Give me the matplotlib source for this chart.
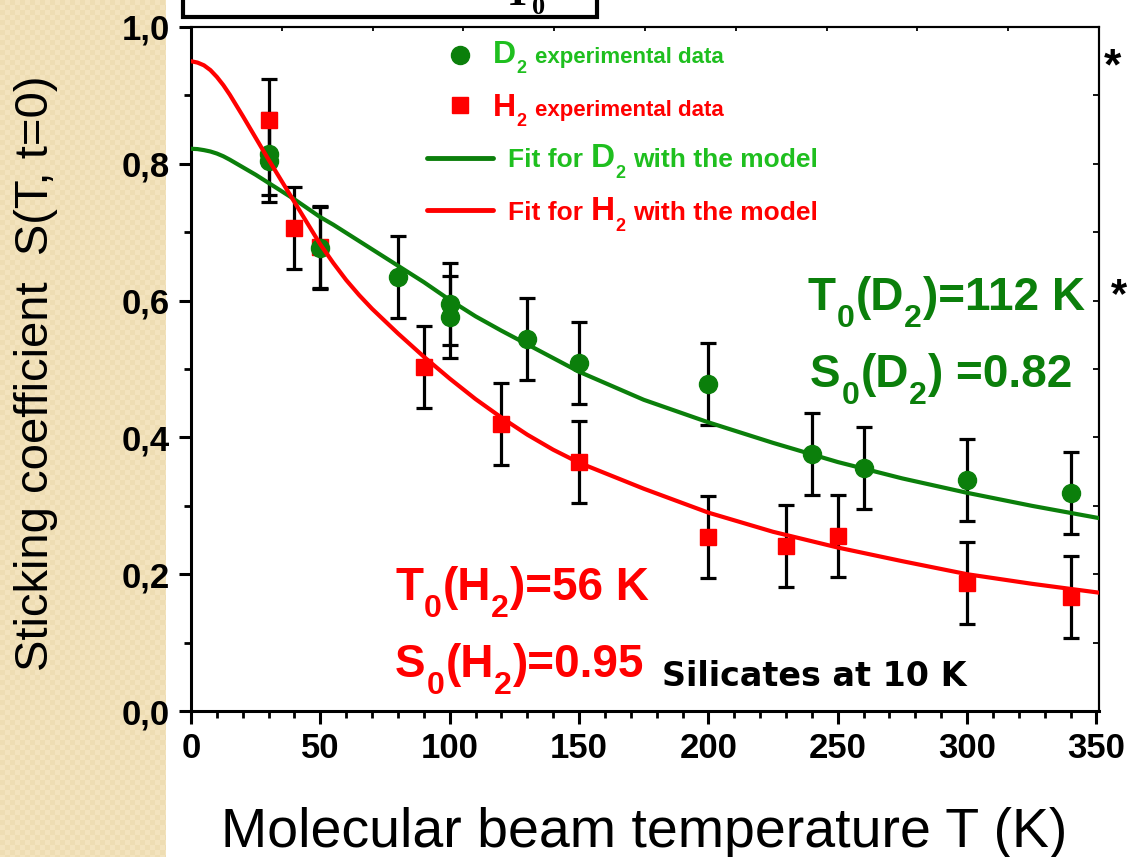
import numpy as np
import matplotlib
matplotlib.use("Agg")
import matplotlib.pyplot as plt
from matplotlib.lines import Line2D
from matplotlib.patches import Rectangle
from matplotlib.ticker import MultipleLocator, FuncFormatter, NullLocator

plt.rcParams['font.family'] = ['Liberation Sans', 'DejaVu Sans']

W, H = 1130, 857

# experimental points (T in K, sticking coefficient)
d2_T = [30, 30, 50, 80, 100, 100, 130, 150, 200, 240, 260, 300, 340]
d2_S = [0.815, 0.804, 0.677, 0.635, 0.595, 0.576, 0.544, 0.509, 0.478, 0.376, 0.355, 0.338, 0.319]
d2_err = [0.06, 0.06, 0.06, 0.06, 0.06, 0.06, 0.06, 0.06, 0.06, 0.06, 0.06, 0.06, 0.06]

h2_T = [30, 40, 50, 90, 120, 150, 200, 230, 250, 300, 340]
h2_S = [0.864, 0.706, 0.678, 0.503, 0.420, 0.364, 0.254, 0.241, 0.256, 0.187, 0.167]
h2_err = [0.06, 0.06, 0.06, 0.06, 0.06, 0.06, 0.06, 0.06, 0.06, 0.06, 0.06]

# fit curves
fit_T = [0, 2.5, 5, 7.5, 10, 12.5, 15, 20, 25, 30, 35, 40, 45, 50, 55, 60, 65, 70, 75,
         80, 90, 100, 110, 120, 130, 140, 150, 175, 200, 225, 250, 275, 300, 325, 351]
d2_fit = [0.822, 0.8215, 0.820, 0.818, 0.815, 0.811, 0.806, 0.795, 0.784, 0.772, 0.760,
          0.748, 0.735, 0.722, 0.711, 0.699, 0.687, 0.675, 0.663, 0.651, 0.627, 0.601,
          0.577, 0.556, 0.536, 0.516, 0.496, 0.455, 0.422, 0.392, 0.364, 0.340, 0.319,
          0.300, 0.282]
h2_fit = [0.950, 0.948, 0.944, 0.937, 0.927, 0.915, 0.901, 0.870, 0.838, 0.806, 0.775,
          0.744, 0.713, 0.682, 0.655, 0.630, 0.608, 0.588, 0.570, 0.552, 0.518, 0.486,
          0.456, 0.429, 0.404, 0.382, 0.363, 0.325, 0.290, 0.262, 0.239, 0.219, 0.200,
          0.186, 0.173]

x_ticks_top = [35.1 * i for i in range(1, 10)]
y_ticks_right = [0.1 * i for i in range(1, 10)]

DARK_GREEN = '#0b7f0b'
LEG_GREEN = '#1fbf1f'
RED = '#ff0000'


def ftext(x, y, s, **kw):
    # place text using pixel coords of the 1130x857 canvas (y from top)
    return fig.text(x / W, 1 - y / H, s, **kw)


def chain(x, y, pieces, **kw):
    # pieces: (text, size, drop below baseline px, gap px) written left to right
    yb = H - y
    prev = None
    for s, size, drop, gap in pieces:
        if prev is None:
            prev = fig.text(x / W, (yb - drop) / H, s, size=size, va='baseline', **kw)
        else:
            prev = ax.annotate(s, xy=(1, yb), xycoords=(prev, 'figure pixels'),
                               xytext=(gap, -drop), textcoords='offset pixels',
                               size=size, va='baseline', ha='left',
                               annotation_clip=False, **kw)
    return prev


fig = plt.figure(figsize=(W / 100, H / 100), dpi=100)

# beige slide border on the left
bg = fig.add_axes([0, 0, 166 / W, 1])
yy, xx = np.mgrid[0:H, 0:166]
chk = ((xx % 10) < 5) ^ ((yy % 10) < 5)
img = np.where(chk[..., None], [0.955, 0.894, 0.749], [0.937, 0.867, 0.702])
bg.imshow(img, aspect='auto', interpolation='nearest')
bg.axis('off')

ax = fig.add_axes([191 / W, (H - 711) / H, 908 / W, 684 / H])

ax.errorbar(h2_T, h2_S, yerr=h2_err, fmt='none', ecolor='black', elinewidth=2.3,
            capsize=5.5, capthick=2.3, zorder=2)
ax.errorbar(d2_T, d2_S, yerr=d2_err, fmt='none', ecolor='black', elinewidth=2.3,
            capsize=5.5, capthick=2.3, zorder=2)
ax.plot(h2_T, h2_S, 's', color=RED, ms=12, zorder=3)
ax.plot(d2_T, d2_S, 'o', color=DARK_GREEN, ms=13, zorder=3)
ax.plot(fit_T, d2_fit, color=DARK_GREEN, lw=3, zorder=5)
ax.plot(fit_T, h2_fit, color=RED, lw=3, zorder=5)

ax.set_xlim(0, 351)
ax.set_ylim(0, 1.0)
ax.xaxis.set_major_locator(MultipleLocator(50))
ax.xaxis.set_minor_locator(MultipleLocator(10))
ax.yaxis.set_major_locator(MultipleLocator(0.2))
ax.yaxis.set_minor_locator(MultipleLocator(0.1))
ax.yaxis.set_major_formatter(FuncFormatter(lambda v, p: f"{v:.1f}".replace('.', ',')))
ax.tick_params(which='major', direction='out', length=9, width=2.2, labelsize=25, pad=6)
ax.tick_params(which='minor', direction='out', length=5, width=2)
for lab in ax.get_xticklabels() + ax.get_yticklabels():
    lab.set_fontweight('bold')
for s in ['left', 'bottom']:
    ax.spines[s].set_linewidth(2.2)
for s in ['top', 'right']:
    ax.spines[s].set_linewidth(1.5)

sec_top = ax.secondary_xaxis('top')
sec_top.set_xticks(x_ticks_top)
sec_top.xaxis.set_minor_locator(NullLocator())
sec_top.tick_params(direction='in', length=3, width=1.3, labeltop=False)
sec_top.spines['top'].set_linewidth(1.5)

sec_right = ax.secondary_yaxis('right')
sec_right.set_yticks(y_ticks_right)
sec_right.yaxis.set_minor_locator(NullLocator())
sec_right.tick_params(direction='in', length=4, width=1.3, labelright=False)
sec_right.spines['right'].set_linewidth(1.5)

# legend glyphs
fig.add_artist(Line2D([460 / W], [1 - 55 / H], marker='o', ms=13, color=DARK_GREEN,
                      transform=fig.transFigure))
fig.add_artist(Line2D([460 / W], [1 - 105 / H], marker='s', ms=11, color=RED,
                      transform=fig.transFigure))
fig.add_artist(Line2D([427 / W, 493 / W], [1 - 158 / H] * 2, lw=3.5, color=DARK_GREEN,
                      solid_capstyle='round', transform=fig.transFigure))
fig.add_artist(Line2D([427 / W, 493 / W], [1 - 210 / H] * 2, lw=3.5, color=RED,
                      solid_capstyle='round', transform=fig.transFigure))

# legend texts
chain(493, 63, [("D", 23, 0, 0), ("2", 13, 10, 0), ("experimental data", 16, 0, 9)],
      color=LEG_GREEN, weight='bold')
chain(493, 116, [("H", 23, 0, 0), ("2", 13, 10, 0), ("experimental data", 16, 0, 9)],
      color=RED, weight='bold')
chain(508, 167, [("Fit for", 19, 0, 0), ("D", 24, 0, 8), ("2", 13, 11, 0),
                 ("with the model", 19, 0, 8)], color=LEG_GREEN, weight='bold')
chain(508, 220, [("Fit for", 19, 0, 0), ("H", 24, 0, 8), ("2", 13, 11, 0),
                 ("with the model", 19, 0, 8)], color=RED, weight='bold')

# fit parameters
chain(808, 310, [("T", 33, 0, 0), ("0", 23, 17, 1), ("(D", 33, 0, 1), ("2", 23, 17, 0),
                 (")=112 K", 33, 0, 1)], color=DARK_GREEN, weight='bold')
chain(810, 387, [("S", 33, 0, 0), ("0", 23, 17, 1), ("(D", 33, 0, 1), ("2", 23, 17, 0),
                 (") =0.82", 33, 0, 1)], color=DARK_GREEN, weight='bold')
chain(395, 600, [("T", 33, 0, 0), ("0", 23, 17, 1), ("(H", 33, 0, 1), ("2", 23, 17, 0),
                 (")=56 K", 33, 0, 1)], color=RED, weight='bold')
chain(395, 677, [("S", 33, 0, 0), ("0", 23, 17, 1), ("(H", 33, 0, 1), ("2", 23, 17, 0),
                 (")=0.95", 33, 0, 1)], color=RED, weight='bold')
ftext(662, 686, "Silicates at 10 K", family='DejaVu Sans', weight='bold', size=24,
      va='baseline')

ftext(1112, 68, "*", size=32, weight='bold', ha='center', va='center')
ftext(1119, 296, "*", size=30, weight='bold', ha='center', va='center')

# cut-off box at the top
fig.add_artist(Rectangle((183 / W, 1 - 17 / H), 414 / W, 0.1, transform=fig.transFigure,
                         facecolor='white', edgecolor='black', lw=3, clip_on=False))
ftext(503, 5, "T", family='Liberation Serif', weight='bold', size=30, va='baseline')
ftext(532, 14, "0", family='Liberation Serif', weight='bold', size=19, va='baseline')

# axis titles
fig.text(644 / W, 1 - 847 / H, "Molecular beam temperature T (K)", size=40,
         ha='center', va='baseline')
fig.text(48 / W, 1 - 373 / H, "Sticking coefficient  S(T, t=0)", size=34, rotation=90,
         rotation_mode='anchor', ha='center', va='baseline')

fig.savefig('out.png', dpi=100)
